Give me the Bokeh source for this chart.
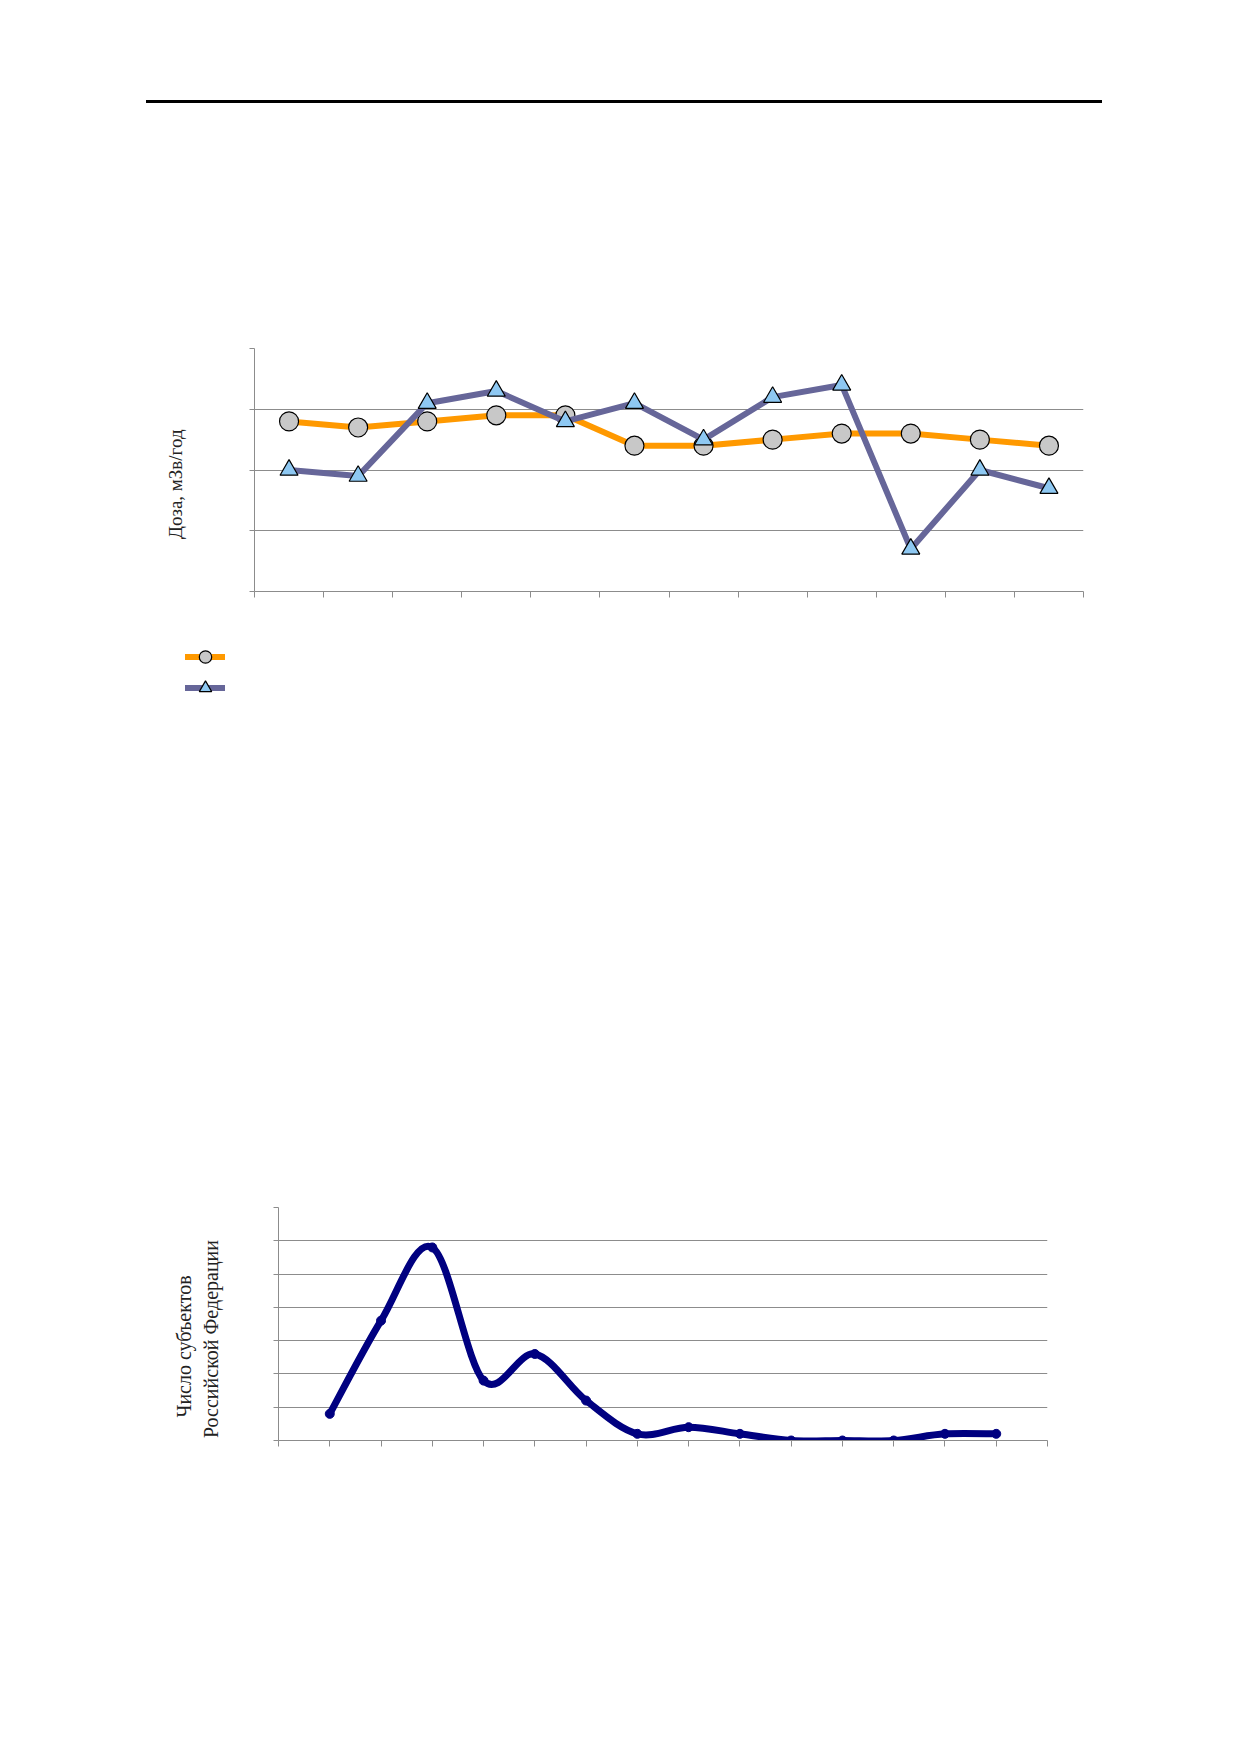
from bokeh.plotting import figure
from bokeh.models import FixedTicker, Legend, LegendItem, Div, Range1d, ColumnDataSource
from bokeh.layouts import column, row
from bokeh.embed import file_html
from bokeh.resources import INLINE

# ---------------- data ----------------
# Chart 1: dose (grid units), 12 periods, two series
dose_a = [2.8, 2.7, 2.8, 2.9, 2.9, 2.4, 2.4, 2.5, 2.6, 2.6, 2.5, 2.4]
dose_b = [2.0, 1.9, 3.1, 3.3, 2.8, 3.1, 2.5, 3.2, 3.4, 0.7, 2.0, 1.7]
dose_y_ticks = [0, 1, 2, 3, 4]
dose_y_grid = [1, 2, 3]
dose_label = "Доза, мЗв/год"

# Chart 2: number of subjects of the Russian Federation per class (14 classes)
subjects = [4, 18, 29, 9, 13, 6, 1, 2, 1, 0, 0, 0, 1, 1]
subj_y_ticks = [0, 5, 10, 15, 20, 25, 30, 35]
subj_y_grid = [5, 10, 15, 20, 25, 30]
subj_label_lines = ["Число субъектов", "Российской Федерации"]

SERIF = "Liberation Serif"
AXIS_COL = "#8c8c8c"
GRID_COL = "#8c8c8c"
ORANGE = "#ff9900"
PURPLE = "#666699"
NBSP = "\u00a0"


def style_axes(p, xticks, yticks, ygrid):
    p.outline_line_color = None
    p.xgrid.visible = False
    p.ygrid.ticker = FixedTicker(ticks=ygrid)
    p.ygrid.grid_line_color = GRID_COL
    p.ygrid.grid_line_width = 1
    for ax, ticks, out in ((p.xaxis, xticks, 6), (p.yaxis, yticks, 5)):
        ax.ticker = FixedTicker(ticks=ticks)
        ax.major_tick_in = 0
        ax.major_tick_out = out
        ax.minor_tick_line_color = None
        ax.axis_line_color = AXIS_COL
        ax.major_tick_line_color = AXIS_COL
        ax.major_label_overrides = {t: "" for t in ticks}
        ax.major_label_text_color = None
        ax.major_label_standoff = 0


def style_label(ax, size, standoff):
    ax.axis_label_text_font = SERIF
    ax.axis_label_text_font_size = size
    ax.axis_label_text_font_style = "normal"
    ax.axis_label_text_color = "#222222"
    ax.axis_label_standoff = standoff


# ---------------- top rule ----------------
rule = Div(text="", width=956, height=3, margin=(100, 0, 0, 146),
           styles={"background-color": "#000000"})

# ---------------- chart 1 ----------------
n1 = len(dose_a)
x1 = [i + 0.5 for i in range(n1)]
src1 = ColumnDataSource(dict(x=x1, a=dose_a, b=dose_b))

p1 = figure(width=1093, height=537, x_range=Range1d(0, n1), y_range=Range1d(0, 4),
            output_backend="svg", toolbar_location=None,
            min_border_left=254, min_border_right=10, min_border_top=245,
            min_border_bottom=49)
style_axes(p1, list(range(n1 + 1)), dose_y_ticks, dose_y_grid)
# trailing no-break spaces only shift the centred title a little downwards
p1.yaxis.axis_label = dose_label + NBSP * 6
style_label(p1.yaxis, "19px", 64)

line_a = dict(line_color=ORANGE, line_width=6, line_join="round", line_cap="round")
mark_a = dict(marker="circle", fill_color="#c8c8c8", line_color="#000000", line_width=1.2)
line_b = dict(line_color=PURPLE, line_width=6, line_join="round", line_cap="round")
mark_b = dict(marker="triangle", fill_color="#8ec8f2", line_color="#000000", line_width=1.2)

p1.line("x", "a", source=src1, **line_a)
p1.scatter("x", "a", source=src1, size=19, **mark_a)
p1.line("x", "b", source=src1, **line_b)
p1.scatter("x", "b", source=src1, size=18, **mark_b)

# ---------------- legend (own small canvas below chart 1) ----------------
# the series are attached here too (outside this canvas' visible range) so that the
# legend can draw their swatches
p_leg = figure(width=320, height=70, x_range=Range1d(1000, 1001), y_range=Range1d(1000, 1001),
               output_backend="svg", toolbar_location=None,
               min_border_left=184, min_border_right=0, min_border_top=0,
               min_border_bottom=0)
p_leg.axis.visible = False
p_leg.grid.visible = False
p_leg.outline_line_color = None
ra1 = p_leg.line("x", "a", source=src1, **line_a)
ra2 = p_leg.scatter("x", "a", source=src1, size=12, **mark_a)
rb1 = p_leg.line("x", "b", source=src1, **line_b)
rb2 = p_leg.scatter("x", "b", source=src1, size=12, **mark_b)
legend = Legend(items=[LegendItem(label=" ", renderers=[ra1, ra2]),
                       LegendItem(label=" ", renderers=[rb1, rb2])],
                location="top_left", orientation="vertical",
                glyph_width=40, glyph_height=31, spacing=0, padding=0, margin=1,
                label_standoff=2, label_text_font_size="8px",
                border_line_color=None, background_fill_alpha=0)
p_leg.add_layout(legend, "center")

# ---------------- chart 2 ----------------
n2 = len(subjects)
x2 = [i + 1 for i in range(n2)]
src2 = ColumnDataSource(dict(x=x2, y=subjects))

# smoothed line (Catmull-Rom -> cubic Bezier control points)
xs = [x2[0]] + x2 + [x2[-1]]
ys = [subjects[0]] + subjects + [subjects[-1]]
bz = dict(x0=[], y0=[], x1=[], y1=[], cx0=[], cy0=[], cx1=[], cy1=[])
for i in range(1, n2):
    bz["x0"].append(xs[i]); bz["y0"].append(ys[i])
    bz["x1"].append(xs[i + 1]); bz["y1"].append(ys[i + 1])
    bz["cx0"].append(xs[i] + (xs[i + 1] - xs[i - 1]) / 6)
    bz["cy0"].append(ys[i] + (ys[i + 1] - ys[i - 1]) / 6)
    bz["cx1"].append(xs[i + 1] - (xs[i + 2] - xs[i]) / 6)
    bz["cy1"].append(ys[i + 1] - (ys[i + 2] - ys[i]) / 6)
src_bz = ColumnDataSource(bz)

p2 = figure(width=1057, height=760, x_range=Range1d(0, n2 + 1), y_range=Range1d(0, 35),
            output_backend="svg", toolbar_location=None,
            min_border_left=278, min_border_right=10, min_border_top=497,
            min_border_bottom=30)
style_axes(p2, list(range(n2 + 2)), subj_y_ticks, subj_y_grid)
p2.yaxis.axis_label = (subj_label_lines[0] + NBSP * 9 + "\n"
                       + subj_label_lines[1] + NBSP * 6)
style_label(p2.yaxis, "20px", 52)

p2.bezier(x0="x0", y0="y0", x1="x1", y1="y1", cx0="cx0", cy0="cy0", cx1="cx1", cy1="cy1",
          source=src_bz, line_color="#000080", line_width=7, line_cap="round")
p2.scatter("x", "y", source=src2, marker="circle", size=9,
           fill_color="#000080", line_color="#000080")

layout = column(rule, row(p1), row(p_leg), row(p2), spacing=0)
open("out.html", "w").write(file_html(layout, INLINE))
